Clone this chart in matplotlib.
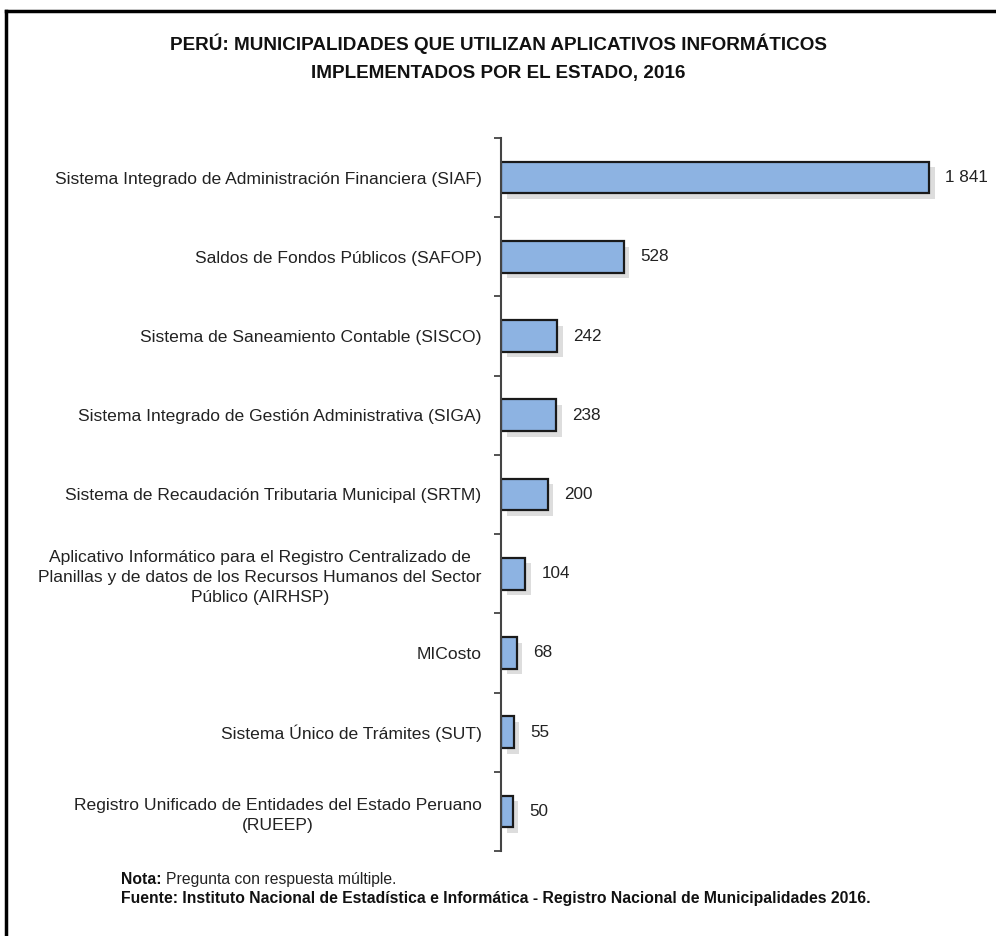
import matplotlib.pyplot as plt
import matplotlib.patheffects as pe
from matplotlib.lines import Line2D

plt.rcParams['font.family'] = ['Liberation Sans', 'DejaVu Sans']

labels = [
    'Sistema Integrado de Administración Financiera (SIAF)',
    'Saldos de Fondos Públicos (SAFOP)',
    'Sistema de Saneamiento Contable (SISCO)',
    'Sistema Integrado de Gestión Administrativa (SIGA)',
    'Sistema de Recaudación Tributaria Municipal (SRTM)',
    'Aplicativo Informático para el Registro Centralizado de\nPlanillas y de datos de los Recursos Humanos del Sector\nPúblico (AIRHSP)',
    'MICosto',
    'Sistema Único de Trámites (SUT)',
    'Registro Unificado de Entidades del Estado Peruano\n(RUEEP)',
]
values = [1841, 528, 242, 238, 200, 104, 68, 55, 50]
value_text = ['1 841', '528', '242', '238', '200', '104', '68', '55', '50']

fig = plt.figure(figsize=(9.96, 9.36), dpi=100)
ax = fig.add_axes([0.503, 0.0908, 0.467, 0.7618])

pos = list(range(len(values)))
bars = ax.barh(pos, values, height=0.4, color='#8db3e2', edgecolor='#1a1a1a', linewidth=1.6)
for b in bars:
    b.set_path_effects([pe.SimplePatchShadow(offset=(4, -4), shadow_rgbFace='#aaaaaa', alpha=0.4), pe.Normal()])

for p, v, t in zip(pos, values, value_text):
    ax.text(v + 70, p, t, va='center', ha='left', fontsize=12.3, color='#222222')

ax.set_xlim(0, 2000)
ax.set_ylim(len(values) - 0.5, -0.5)
ax.set_yticks(pos)
ax.set_yticklabels(labels, fontsize=12.6, color='#222222', multialignment='center', linespacing=1.4)
ax.tick_params(axis='y', which='major', length=0, pad=14)
ax.set_yticks([i - 0.5 for i in range(len(values) + 1)], minor=True)
ax.tick_params(axis='y', which='minor', length=5, width=1.3, color='#444444', direction='out')
ax.set_xticks([])
for s in ['top', 'right', 'bottom']:
    ax.spines[s].set_visible(False)
ax.spines['left'].set_color('#444444')
ax.spines['left'].set_linewidth(1.5)

fig.text(0.5, 0.953, 'PERÚ: MUNICIPALIDADES QUE UTILIZAN APLICATIVOS INFORMÁTICOS',
         ha='center', va='center', fontsize=13.6, fontweight='bold', color='#111111')
fig.text(0.5, 0.921, 'IMPLEMENTADOS POR EL ESTADO, 2016',
         ha='center', va='center', fontsize=13.6, fontweight='bold', color='#111111')

fig.text(0.121, 0.060, 'Nota:', ha='left', va='center', fontsize=11.3, fontweight='bold', color='#111111')
fig.text(0.167, 0.060, 'Pregunta con respuesta múltiple.', ha='left', va='center', fontsize=11.3, color='#222222')
fig.text(0.121, 0.040, 'Fuente: Instituto Nacional de Estadística e Informática - Registro Nacional de Municipalidades 2016.',
         ha='left', va='center', fontsize=11.3, fontweight='bold', color='#111111')

# frame: left and top edges
fig.add_artist(Line2D([0.0065, 0.0065], [0.0, 0.988], transform=fig.transFigure, color='black', linewidth=2.5))
fig.add_artist(Line2D([0.0065, 1.0], [0.988, 0.988], transform=fig.transFigure, color='black', linewidth=2.5))

fig.savefig('out.png', dpi=100, facecolor='white')
